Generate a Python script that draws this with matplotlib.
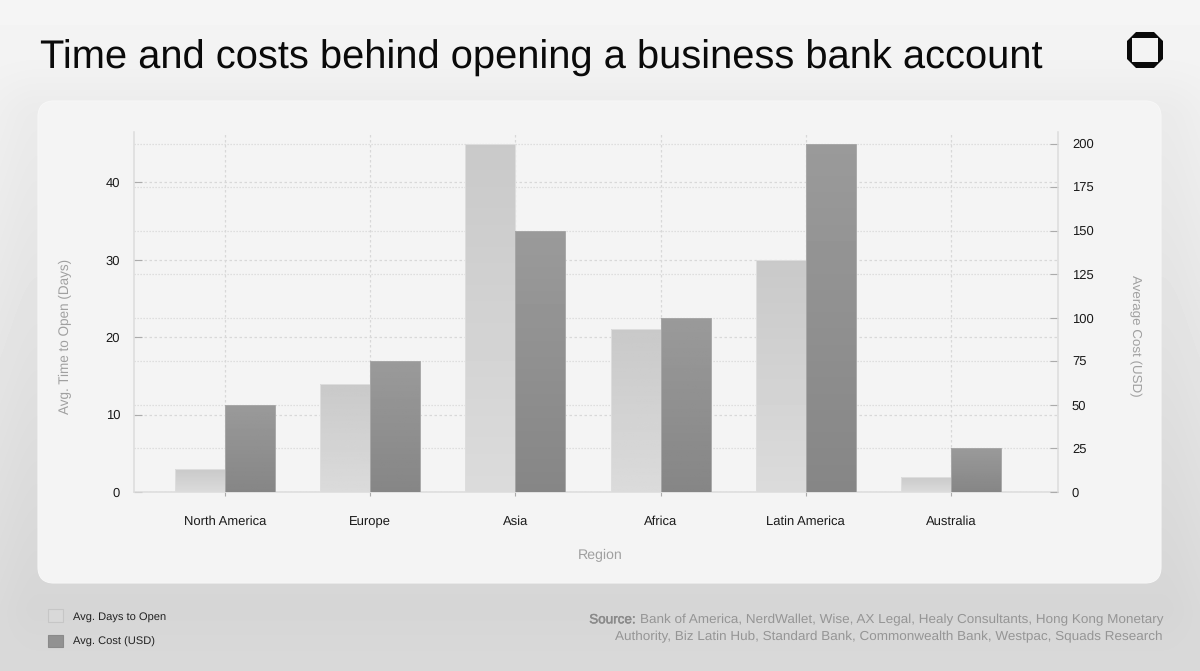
import numpy as np
import matplotlib
matplotlib.use("Agg")
import matplotlib.pyplot as plt
from matplotlib.patches import FancyBboxPatch, PathPatch, Patch
from matplotlib.path import Path
import matplotlib.patheffects as pe

# Survey figures by region
regions = ["North America", "Europe", "Asia", "Africa", "Latin America", "Australia"]
days_to_open = [3, 14, 45, 21, 30, 2]
cost_usd = [50, 75, 150, 100, 200, 25]
days_ticks = [0, 10, 20, 30, 40]
cost_ticks = [0, 25, 50, 75, 100, 125, 150, 175, 200]

W, H = 1200, 671
FONT = "Liberation Sans"
plt.rcParams["font.family"] = [FONT, "DejaVu Sans"]
plt.rcParams["text.hinting"] = "no_hinting"
plt.rcParams["text.hinting_factor"] = 8

fig = plt.figure(figsize=(W / 100, H / 100), dpi=100)

# Page layer, addressed in pixels with the origin at the top left
page = fig.add_axes([0, 0, 1, 1], zorder=0)
page.set_xlim(0, W)
page.set_ylim(H, 0)
page.axis("off")

yy, xx = np.mgrid[0:H, 0:W]
shade = 0.96 - 0.11 * (yy / H) ** 1.1
# Soft shadow cast by the card
cx0, cx1, cy0, cy1 = 38, 1161, 101, 583
blur = 42.0
dx = np.maximum(np.maximum(cx0 - xx, xx - cx1), 0)
dy = np.maximum(np.maximum(cy0 - (yy - 18), (yy - 18) - cy1), 0)
dist = np.hypot(dx, dy)
shade = shade - 0.024 * np.exp(-(dist / blur) ** 2)
page.imshow(shade, extent=(0, W, H, 0), cmap="gray", vmin=0, vmax=1,
            aspect="auto", interpolation="bilinear", zorder=0)

card = FancyBboxPatch((cx0 + 16, cy0 + 16), cx1 - cx0 - 32, cy1 - cy0 - 32,
                      boxstyle="round,pad=16,rounding_size=16",
                      fc="#f4f4f4", ec="#f7f7f7", lw=0.8, zorder=1)
page.add_patch(card)

page.text(40, 69, "Time and costs behind opening a business bank account",
          fontsize=28.7, color="#0a0a0a", va="baseline", ha="left", zorder=3)

# Brand mark: octagon outline around a square opening
ox0, ox1, oy0, oy1 = 1127, 1163, 32, 68
cut = 9
outer = [(ox0 + cut, oy0), (ox1 - cut, oy0), (ox1, oy0 + cut), (ox1, oy1 - cut),
         (ox1 - cut, oy1), (ox0 + cut, oy1), (ox0, oy1 - cut), (ox0, oy0 + cut),
         (ox0 + cut, oy0)]
inner = [(ox0 + 5, oy0 + 6), (ox0 + 5, oy1 - 6), (ox1 - 5, oy1 - 6),
         (ox1 - 5, oy0 + 6), (ox0 + 5, oy0 + 6)]
codes = [Path.MOVETO] + [Path.LINETO] * 7 + [Path.CLOSEPOLY] + \
        [Path.MOVETO] + [Path.LINETO] * 3 + [Path.CLOSEPOLY]
page.add_patch(PathPatch(Path(outer + inner, codes), fc="#0a0a0a", ec="none", zorder=3))
page.set_xlim(0, W)
page.set_ylim(H, 0)

# Plot area
AX_L, AX_R, AX_T, AX_B = 134, 1058, 132, 492
rect = [AX_L / W, 1 - AX_B / H, (AX_R - AX_L) / W, (AX_B - AX_T) / H]

PX_PER_DAY = (492 - 143.5) / 45
PX_PER_USD = (492 - 143.5) / 200
days_max = (AX_B - AX_T) / PX_PER_DAY
cost_max = (AX_B - AX_T) / PX_PER_USD
step = 145.2
x_lim = (-(225 - AX_L) / step, (AX_R - 225) / step)
x = np.arange(len(regions))
bar_w = 50 / step

# Grid for the cost scale sits under both sets of bars
grid_ax = fig.add_axes(rect, zorder=1)
grid_ax.set_xlim(x_lim)
grid_ax.set_ylim(0, cost_max)
grid_ax.patch.set_visible(False)
grid_ax.set_xticks(x)
grid_ax.set_yticks(cost_ticks)
grid_ax.tick_params(length=0, labelleft=False, labelbottom=False)
grid_ax.grid(True, axis="y", color="#d8d8d8", lw=0.9, ls=(0, (1, 1.4)))
for s in grid_ax.spines.values():
    s.set_visible(False)

ax = fig.add_axes(rect, zorder=2)
ax2 = ax.twinx()
ax2.set_zorder(3)
ax.patch.set_visible(False)
ax2.patch.set_visible(False)


def gradient_bars(axis, xs, values, top, bottom, edge, label):
    limits = axis.get_xlim(), axis.get_ylim()
    bars = axis.bar(xs, values, bar_w, fc="none", ec=edge, lw=0.7, label=label, zorder=3)
    ramp = np.linspace(0, 1, 64)[:, None]
    for bar in bars:
        x0, w, h = bar.get_x(), bar.get_width(), bar.get_height()
        img = top + (bottom - top) * ramp
        im = axis.imshow(img, extent=(x0, x0 + w, 0, h), cmap="gray", vmin=0, vmax=1,
                         aspect="auto", origin="upper", zorder=2)
        im.set_clip_path(bar)
    axis.set_xlim(limits[0])
    axis.set_ylim(limits[1])


ax.set_xlim(x_lim)
ax.set_ylim(0, days_max)
ax2.set_xlim(x_lim)
ax2.set_ylim(0, cost_max)

gradient_bars(ax, x - bar_w / 2, days_to_open, 0xc9 / 255, 0xdb / 255, "#dedede", "Avg. Days to Open")
gradient_bars(ax2, x + bar_w / 2, cost_usd, 0x9a / 255, 0x86 / 255, "#a8a8a8", "Avg. Cost (USD)")

ax.set_axisbelow(True)
ax.set_xticks(x, regions)
ax.set_yticks(days_ticks)
ax.grid(True, axis="y", color="#d8d8d8", lw=0.9, ls=(0, (2, 2)))
ax.grid(True, axis="x", color="#d8d8d8", lw=0.9, ls=(0, (2, 2)))
ax2.set_yticks(cost_ticks)

ax.spines["top"].set_visible(False)
ax2.spines["top"].set_visible(False)
ax.spines["right"].set_visible(False)
ax2.spines["left"].set_visible(False)
ax2.spines["bottom"].set_visible(False)
for spine in (ax.spines["left"], ax.spines["bottom"], ax2.spines["right"]):
    spine.set_color("#dcdcdc")
    spine.set_linewidth(1.1)

tick_style = dict(labelsize=9.4, labelcolor="#1a1a1a", color="#ababab", width=0.8)
ax.tick_params(axis="y", length=5.5, pad=10, direction="in", **tick_style)
ax.tick_params(axis="x", length=3, pad=14, direction="out", **tick_style)
ax2.tick_params(axis="y", length=5.5, pad=10, direction="in", **tick_style)

label_style = dict(color="#a0a0a0", zorder=3)
page.text(65.5, 336, "Avg. Time to Open (Days)", rotation=90, ha="center", va="center",
          fontsize=9.75, **label_style)
page.text(1135, 336, "Average Cost (USD)", rotation=-90, ha="center", va="center",
          fontsize=9.6, **label_style)
page.text(600, 555.5, "Region", ha="center", va="center", fontsize=10.15, **label_style)

# Legend under the card
handles = [Patch(fc="#d9d9d9", ec="#c6c6c6", lw=0.8, label="Avg. Days to Open"),
           Patch(fc="#929292", ec="#8a8a8a", lw=0.8, label="Avg. Cost (USD)")]
fig.legend(handles=handles, loc="upper left", bbox_to_anchor=(45 / W, 1 - 606 / H),
           frameon=False, fontsize=8.05, labelcolor="#222222",
           handlelength=1.35, handleheight=1.35, handletextpad=0.85, labelspacing=1.15,
           borderpad=0.3, borderaxespad=0)

# Source note, right aligned under the card
source_style = dict(fontsize=9.7, color="#959595", ha="right", va="center", zorder=3)
line1 = page.text(1163, 620, "Bank of America, NerdWallet, Wise, AX Legal, Healy Consultants, Hong Kong Monetary",
                  **source_style)
page.text(1163, 637, "Authority, Biz Latin Hub, Standard Bank, Commonwealth Bank, Westpac, Squads Research",
          **source_style)
src = page.annotate("Source: ", xy=(0, 0.5), xycoords=line1, ha="right", va="center",
                    fontsize=9.7, color="#8a8a8a", zorder=3)
src.set_path_effects([pe.withStroke(linewidth=0.3, foreground="#8a8a8a")])

fig.savefig("out.png", dpi=100)
